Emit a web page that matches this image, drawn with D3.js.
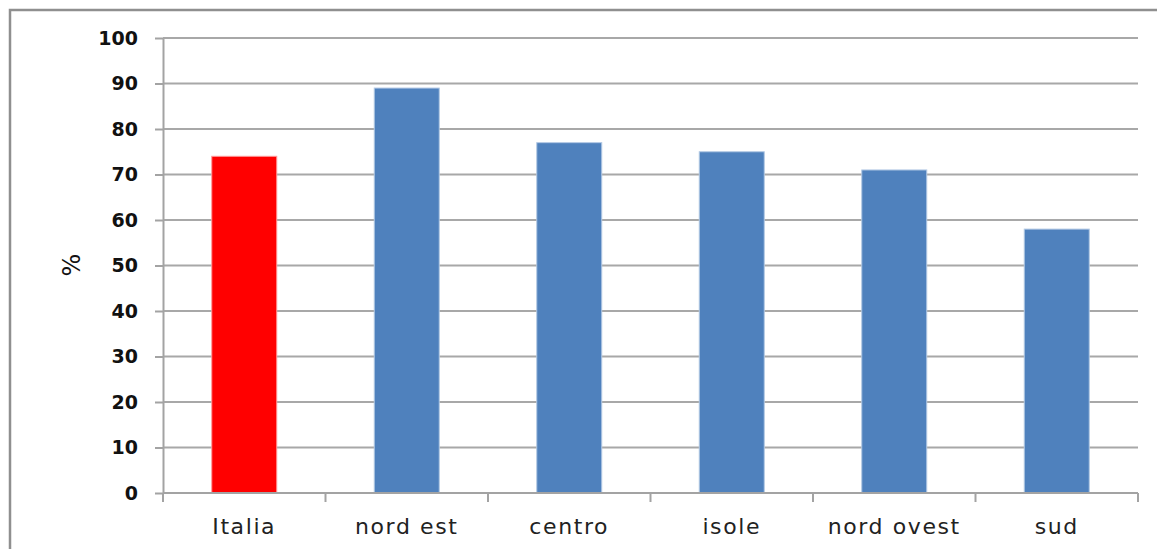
<!DOCTYPE html>
<html>
<head>
<meta charset="utf-8">
<script src="https://cdn.jsdelivr.net/npm/d3@7"></script>
<style>
  html, body { margin: 0; padding: 0; background: #fff; }
  svg { display: block; }
</style>
</head>
<body>
<svg id="chart" width="1157" height="549"></svg>
<script>
// Share by area (%)
const categories = ["Italia", "nord est", "centro", "isole", "nord ovest", "sud"];
const values = [74, 89, 77, 75, 71, 58];
const barColors = ["#FF0000", "#4F81BD", "#4F81BD", "#4F81BD", "#4F81BD", "#4F81BD"];
const edgeColors = ["#FF9A9A", "#B3C9E4", "#B3C9E4", "#B3C9E4", "#B3C9E4", "#B3C9E4"];
const yTicks = [0, 10, 20, 30, 40, 50, 60, 70, 80, 90, 100];

const svg = d3.select("#chart");
const W = 1157, H = 549;
const plot = { left: 163, right: 1138, top: 38, bottom: 493 };

// outer frame
svg.append("path")
  .attr("d", `M10,${H} L10,10 L${W},10`)
  .attr("fill", "none")
  .attr("stroke", "#8f8f8f")
  .attr("stroke-width", 2.5);

const x = d3.scaleBand()
  .domain(categories)
  .range([plot.left, plot.right])
  .paddingInner(0.6)
  .paddingOuter(0.3);

const y = d3.scaleLinear()
  .domain([0, 100])
  .range([plot.bottom, plot.top]);

// horizontal gridlines
svg.append("g")
  .selectAll("line")
  .data(yTicks.filter(d => d > 0))
  .join("line")
  .attr("x1", plot.left)
  .attr("x2", plot.right)
  .attr("y1", d => y(d))
  .attr("y2", d => y(d))
  .attr("stroke", "#a8a8a8")
  .attr("stroke-width", 2);

// bars
svg.append("g")
  .selectAll("rect")
  .data(values)
  .join("rect")
  .attr("x", (d, i) => x(categories[i]))
  .attr("y", d => y(d))
  .attr("width", x.bandwidth())
  .attr("height", d => y(0) - y(d))
  .attr("fill", (d, i) => barColors[i])
  .attr("stroke", (d, i) => edgeColors[i])
  .attr("stroke-width", 1);

// y axis
const yAxis = svg.append("g")
  .attr("transform", `translate(${plot.left},0)`)
  .call(d3.axisLeft(y).tickValues(yTicks).tickSize(8).tickPadding(17).tickSizeOuter(0));
yAxis.select(".domain").attr("stroke", "#a3a3a3").attr("stroke-width", 2);
yAxis.selectAll(".tick line").attr("stroke", "#a3a3a3").attr("stroke-width", 2);
yAxis.selectAll(".tick text")
  .attr("fill", "#111")
  .style("font-family", "'DejaVu Sans', Verdana, sans-serif")
  .style("font-weight", "bold")
  .style("font-size", "19px");

// x axis: ticks sit on category boundaries
const bounds = d3.range(categories.length + 1)
  .map(i => plot.left + i * (plot.right - plot.left) / categories.length);
const xg = svg.append("g");
xg.append("line")
  .attr("x1", plot.left).attr("x2", plot.right)
  .attr("y1", plot.bottom).attr("y2", plot.bottom)
  .attr("stroke", "#a3a3a3").attr("stroke-width", 2);
xg.selectAll("line.tk")
  .data(bounds)
  .join("line")
  .attr("class", "tk")
  .attr("x1", d => d).attr("x2", d => d)
  .attr("y1", plot.bottom).attr("y2", plot.bottom + 9)
  .attr("stroke", "#a3a3a3").attr("stroke-width", 2);
xg.selectAll("text")
  .data(categories)
  .join("text")
  .attr("x", d => x(d) + x.bandwidth() / 2)
  .attr("y", 534)
  .attr("text-anchor", "middle")
  .attr("fill", "#222")
  .style("font-family", "'DejaVu Sans', Verdana, sans-serif")
  .style("font-size", "22px")
  .style("letter-spacing", "1.6px")
  .text(d => d);

// y axis title
svg.append("text")
  .attr("transform", "translate(80,265) rotate(-90)")
  .attr("text-anchor", "middle")
  .attr("fill", "#111")
  .style("font-family", "'DejaVu Sans', Verdana, sans-serif")
  .style("font-size", "24px")
  .text("%");
</script>
</body>
</html>
